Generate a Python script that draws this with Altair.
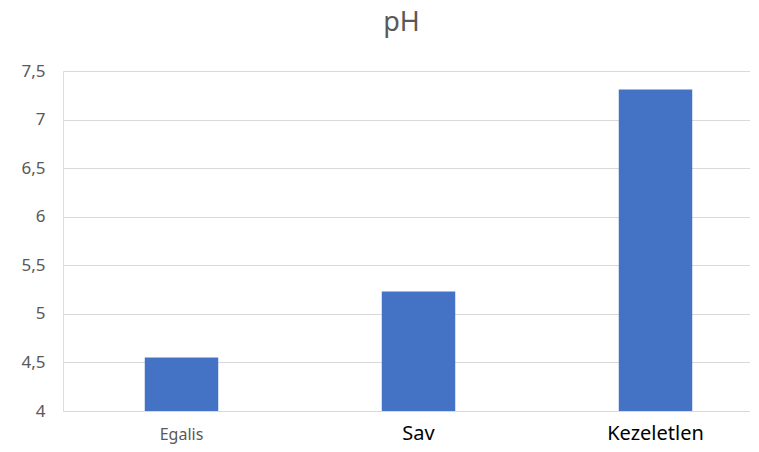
import altair as alt
import pandas as pd

categories = ["Egalis", "Sav", "Kezeletlen"]
values = [4.55, 5.23, 7.31]
y_ticks = [4, 4.5, 5, 5.5, 6, 6.5, 7, 7.5]

df = pd.DataFrame({"cat": categories, "ph": values})

FONT = "Noto Sans"

bars = alt.Chart(df).mark_bar(color="#4472C4", clip=True).encode(
    x=alt.X("cat:N", sort=categories, title=None,
            scale=alt.Scale(range=[0, 711], paddingInner=0.69, paddingOuter=0.345),
            axis=alt.Axis(
                labelAngle=0, ticks=False, domain=True, domainColor="#D9D9D9",
                labelPadding=28, labelBaseline="alphabetic", labelFont=FONT,
                labelFontSize={"condition": {"test": "datum.value == 'Egalis'", "value": 16}, "value": 20},
                labelColor={"condition": {"test": "datum.value == 'Egalis'", "value": "#595959"}, "value": "#000000"},
            )),
    y=alt.Y("ph:Q", title=None,
            scale=alt.Scale(domain=[4, 7.5], nice=False, zero=False),
            axis=alt.Axis(values=y_ticks, ticks=False, domain=False, gridColor="#D9D9D9",
                          gridWidth=1, labelColor="#595959", labelFontSize=17, labelFont=FONT,
                          labelPadding=18,
                          labelExpr="replace(format(datum.value, '~g'), '.', ',')")),
)

chart = bars.properties(
    width=687, height=340,
    autosize=alt.AutoSizeParams(type="none"),
    padding={"left": 55, "top": 63, "right": 0, "bottom": 33},
    title=alt.TitleParams(text="pH", anchor="middle", dx=-5, offset=25,
                          fontSize=27, font=FONT, fontWeight="normal", color="#595959"),
).configure_view(stroke=None).configure(background="white")

chart.save("out.html", embed_options={"renderer": "svg", "actions": False})
